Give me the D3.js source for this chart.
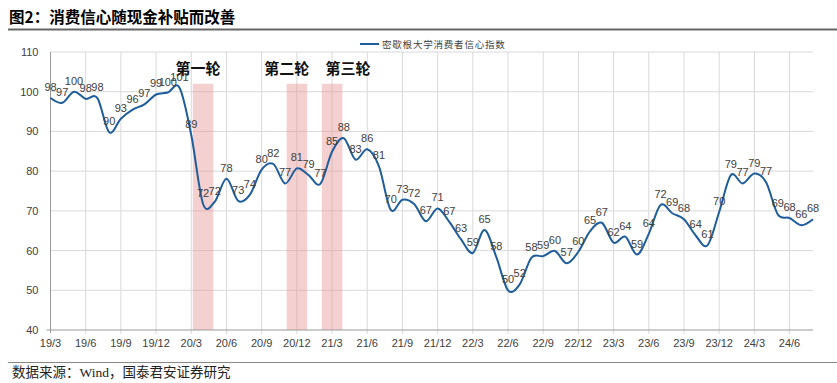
<!DOCTYPE html>
<html><head><meta charset="utf-8">
<script src="https://cdn.jsdelivr.net/npm/d3@7/dist/d3.min.js"></script>
<style>body{margin:0;background:#fff}svg{display:block}</style>
</head><body>
<script>
const title = "图2：消费信心随现金补贴而改善";
const source = "数据来源：Wind，国泰君安证券研究";
const seriesName = "密歇根大学消费者信心指数";
const months = [];
for (let y = 2019, m = 3; !(y === 2024 && m === 9); ) { months.push(y + "/" + m); m++; if (m > 12) { m = 1; y++; } }
const sentiment = [98.4,97.2,100.0,98.2,98.4,89.8,93.2,95.5,96.8,99.3,99.8,101.0,
  89.1,71.8,72.3,78.1,72.5,74.1,80.4,81.8,76.9,80.7,79.0,76.8,84.9,88.3,82.9,85.5,81.2,
  70.3,72.8,71.7,67.4,70.6,67.2,62.8,59.4,65.2,58.4,50.0,51.5,58.2,58.6,59.9,56.8,59.7,
  64.9,67.0,62.0,63.5,59.0,64.2,71.5,69.4,67.9,63.8,61.3,69.7,79.0,76.9,79.4,77.2,69.1,68.2,66.4,67.9];
const tickMonths = ["2019/3","2019/6","2019/9","2019/12","2020/3","2020/6","2020/9","2020/12","2021/3","2021/6","2021/9","2021/12","2022/3","2022/6","2022/9","2022/12","2023/3","2023/6","2023/9","2023/12","2024/3","2024/6"];
const yTicks = [40,50,60,70,80,90,100,110];
const rounds = ["第一轮","第二轮","第三轮"];
const roundMonths = ["2020/4","2020/12","2021/3"];
const roundTop = 102;
const roundLabelValue = 105.6;

const W = 837, H = 383;
const svg = d3.select("body").append("svg").attr("width", W).attr("height", H);
const plot = {left: 50.5, right: 813, top: 52, bottom: 330};

const x = d3.scaleLinear().domain([0, months.length - 1]).range([plot.left, plot.right]);
const y = d3.scaleLinear().domain([40, 110]).range([plot.bottom, plot.top]);
const step = x(1) - x(0);
const idx = m => months.indexOf(m);
const tickLabel = m => { const [yy, mm] = m.split("/"); return yy.slice(2) + "/" + mm; };

// title
svg.append("text").attr("x", 9).attr("y", 23).text(title)
  .attr("font-family", "'Noto Sans CJK SC'").attr("font-weight", "bold").attr("font-size", 15.5).attr("fill", "#000");
svg.append("line").attr("x1", 8).attr("x2", 837).attr("y1", 29.5).attr("y2", 29.5).attr("stroke", "#666").attr("stroke-width", 2);

// gridlines
const g = svg.append("g");
g.append("g").selectAll("line").data(yTicks.slice(1)).join("line")
  .attr("x1", plot.left).attr("x2", plot.right).attr("y1", d => y(d)).attr("y2", d => y(d))
  .attr("stroke", "#d9d9d9").attr("stroke-width", 1);
g.append("g").selectAll("line").data(tickMonths.slice(1)).join("line")
  .attr("x1", d => x(idx(d))).attr("x2", d => x(idx(d))).attr("y1", plot.top).attr("y2", plot.bottom + 4)
  .attr("stroke", "#d9d9d9").attr("stroke-width", 1);

// shading
svg.append("g").selectAll("rect").data(roundMonths).join("rect")
  .attr("x", d => x(idx(d)) - step * 0.87).attr("width", step * 1.75)
  .attr("y", y(roundTop)).attr("height", y(40) - y(roundTop))
  .attr("fill", "rgb(232,150,150)").attr("fill-opacity", 0.45);

// round labels
const labelDx = [-5, -10, 16];
svg.append("g").selectAll("text").data(rounds).join("text")
  .attr("x", (d, i) => x(idx(roundMonths[i])) + labelDx[i]).attr("y", y(roundLabelValue) + 5)
  .attr("text-anchor", "middle").text(d => d)
  .attr("font-family", "'Noto Sans CJK SC'").attr("font-weight", "bold").attr("font-size", 15).attr("fill", "#111");

// axes
svg.append("line").attr("x1", plot.left).attr("x2", plot.left).attr("y1", plot.top).attr("y2", plot.bottom + 3).attr("stroke", "#999");
svg.append("line").attr("x1", plot.left - 4).attr("x2", plot.right).attr("y1", plot.bottom).attr("y2", plot.bottom).attr("stroke", "#999");
svg.append("g").selectAll("text").data(yTicks).join("text")
  .attr("x", 38.5).attr("y", d => y(d) + 4).attr("text-anchor", "end").text(d => d)
  .attr("font-family", "'Liberation Sans', Arial").attr("font-size", 11).attr("fill", "#404040");
svg.append("g").selectAll("text").data(tickMonths).join("text")
  .attr("x", d => x(idx(d))).attr("y", 347).attr("text-anchor", "middle").text(tickLabel)
  .attr("font-family", "'Liberation Sans', Arial").attr("font-size", 11).attr("fill", "#404040");

// line
const line = d3.line().x((d, i) => x(i)).y(d => y(d)).curve(d3.curveCardinal.tension(0));
svg.append("path").datum(sentiment).attr("d", line).attr("fill", "none")
  .attr("stroke", "#1f5d9b").attr("stroke-width", 2);

// data labels
svg.append("g").selectAll("text").data(sentiment).join("text")
  .attr("x", (d, i) => x(i)).attr("y", d => y(d) - 7).attr("text-anchor", "middle")
  .text(d => Math.round(d))
  .attr("font-family", "'Liberation Sans', Arial").attr("font-size", 11).attr("fill", "#404040");

// legend
svg.append("line").attr("x1", 360).attr("x2", 379).attr("y1", 44).attr("y2", 44).attr("stroke", "#1f5d9b").attr("stroke-width", 2);
svg.append("text").attr("x", 382).attr("y", 47.5).text(seriesName)
  .attr("font-family", "'Noto Sans CJK SC'").attr("font-size", 9.5).attr("letter-spacing", 0.8).attr("fill", "#404040");

// source
svg.append("line").attr("x1", 8).attr("x2", 837).attr("y1", 362.5).attr("y2", 362.5).attr("stroke", "#888").attr("stroke-width", 1);
svg.append("text").attr("x", 12).attr("y", 377).text(source)
  .attr("font-family", "'Liberation Serif', 'Noto Sans CJK SC'").attr("font-size", 13.5).attr("fill", "#222");
</script>
</body></html>
